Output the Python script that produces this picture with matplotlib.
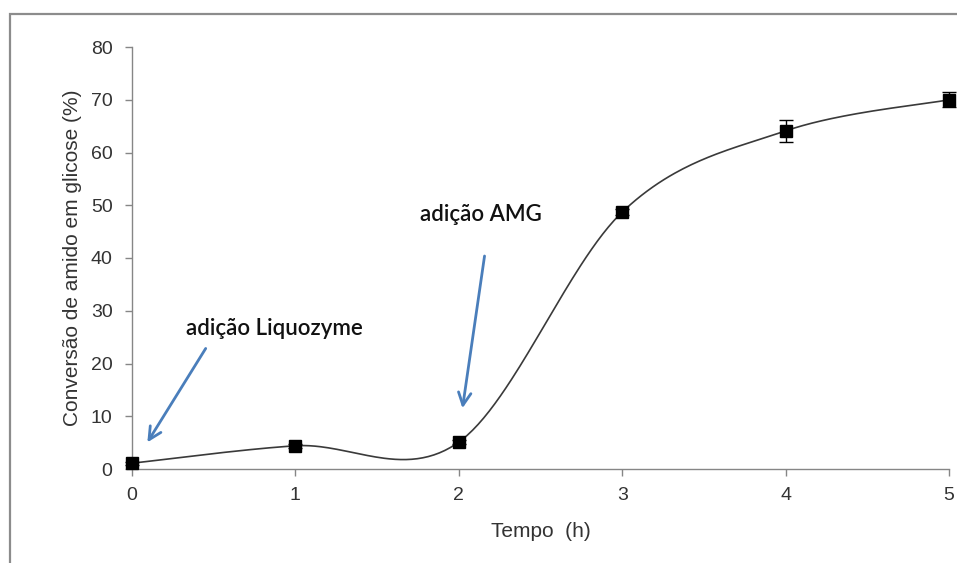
import numpy as np
import matplotlib
matplotlib.use("Agg")
import matplotlib.pyplot as plt
from matplotlib.patches import Rectangle

# Hydrolysis data
tempo_h = [0, 1, 2, 3, 4, 5]
conversao = [1.1, 4.4, 5.1, 48.7, 64.1, 70.0]
erro = [0.3, 0.4, 0.4, 0.6, 2.1, 1.4]

x_ticks = [0, 1, 2, 3, 4, 5]
y_ticks = [0, 10, 20, 30, 40, 50, 60, 70, 80]


def smooth_curve(x, y, n=60):
    """Catmull-Rom style Bezier smoothing through the points."""
    x = np.asarray(x, float)
    y = np.asarray(y, float)
    pts = np.column_stack([x, y])
    out = []
    m = len(pts)
    for i in range(m - 1):
        p0 = pts[i - 1] if i > 0 else pts[i]
        p1 = pts[i]
        p2 = pts[i + 1]
        p3 = pts[i + 2] if i + 2 < m else pts[i + 1]
        c1 = p1 + (p2 - p0) / 6.0
        c2 = p2 - (p3 - p1) / 6.0
        t = np.linspace(0, 1, n)[:, None]
        seg = ((1 - t) ** 3) * p1 + 3 * ((1 - t) ** 2) * t * c1 \
            + 3 * (1 - t) * t ** 2 * c2 + t ** 3 * p2
        out.append(seg if i == 0 else seg[1:])
    seg = np.vstack(out)
    return seg[:, 0], seg[:, 1]


W, H = 957, 563
fig = plt.figure(figsize=(W / 100, H / 100), dpi=100)

# Outer chart-area border
fig.patches.append(Rectangle((10 / W, -0.1), 1.2, 1 - 14 / H + 0.1,
                             transform=fig.transFigure, fill=False,
                             edgecolor="#8c8c8c", linewidth=1.6))

ax = fig.add_axes([132 / W, 1 - 469 / H, (949 - 132) / W, (469 - 47) / H])

grey = "#868686"
for side in ["top", "right"]:
    ax.spines[side].set_visible(False)
for side in ["left", "bottom"]:
    ax.spines[side].set_color(grey)
    ax.spines[side].set_linewidth(1.0)

sx, sy = smooth_curve(tempo_h, conversao)
ax.plot(sx, sy, color="#3a3a3a", linewidth=1.2, clip_on=False, zorder=2)
ax.errorbar(tempo_h, conversao, yerr=erro, fmt="s", color="black",
            markersize=8, ecolor="black", elinewidth=1.0, capsize=5,
            capthick=1.0, clip_on=False, zorder=3)

ax.set_xlim(0, 5)
ax.set_ylim(0, 80)
ax.set_xticks(x_ticks)
ax.set_yticks(y_ticks)
ax.tick_params(axis="both", direction="out", length=5, width=1.0,
               color=grey, labelsize=14, labelcolor="#333333")
ax.tick_params(axis="x", pad=8)
ax.tick_params(axis="y", pad=9)
for lab in ax.get_xticklabels() + ax.get_yticklabels():
    lab.set_family("Liberation Sans")

ax.set_xlabel("Tempo  (h)", fontsize=15, family="Liberation Sans",
              color="#333333", labelpad=13)
ax.set_ylabel("Conversão de amido em glicose (%)", fontsize=15,
              family="Liberation Sans", color="#333333", labelpad=6)

arrow_col = "#4a7ebb"
ax.annotate("", xy=(0.085, 4.6), xytext=(0.46, 23.3),
            arrowprops=dict(arrowstyle="->,head_length=0.9,head_width=0.45",
                            color=arrow_col, lw=2.0))
ax.annotate("", xy=(2.02, 11.0), xytext=(2.16, 40.9),
            arrowprops=dict(arrowstyle="->,head_length=0.9,head_width=0.45",
                            color=arrow_col, lw=2.0))

ax.text(0.87, 26.7, "adição Liquozyme", fontsize=16, family="Lato",
        weight="semibold", color="#111111", ha="center", va="center")
ax.text(2.136, 48.2, "adição AMG", fontsize=16, family="Lato",
        weight="semibold", color="#111111", ha="center", va="center")

fig.savefig("out.png", dpi=100)
